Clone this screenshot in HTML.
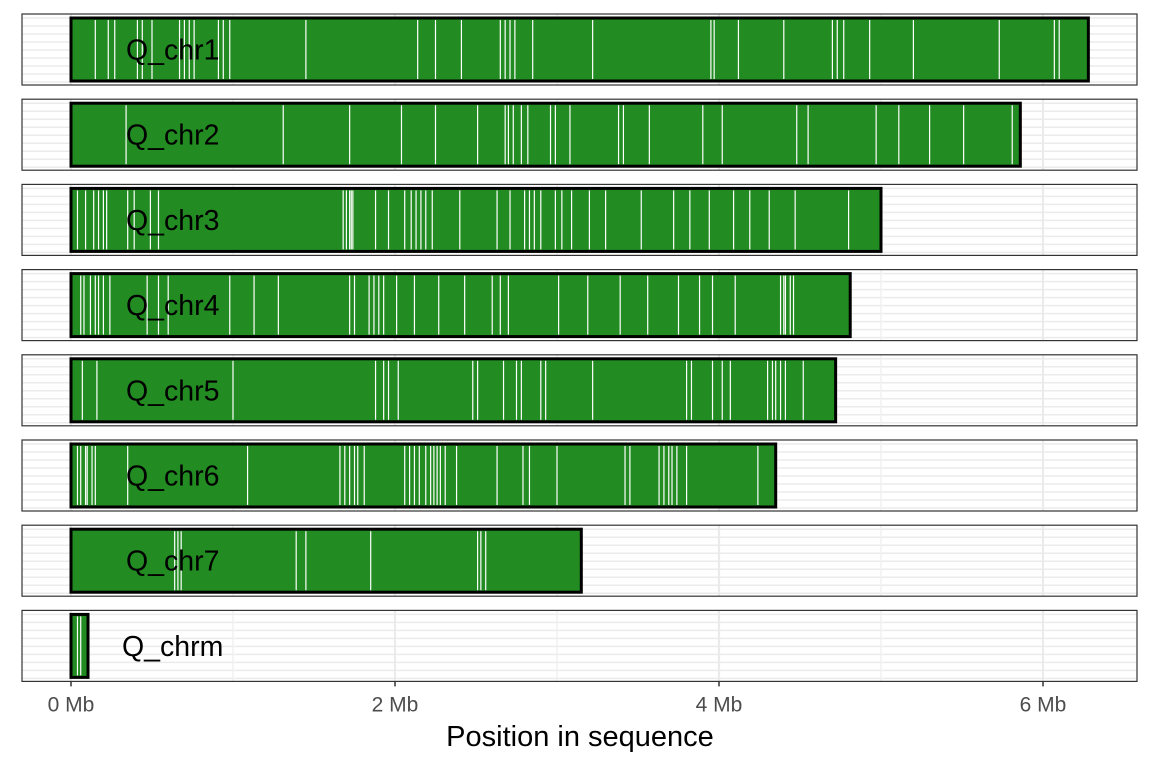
<!DOCTYPE html>
<html><head><meta charset="utf-8"><style>
html,body{margin:0;padding:0;background:#fff;}
svg{display:block;font-family:"Liberation Sans",sans-serif;}
</style></head><body>
<svg id="chart" width="1152" height="768"></svg>
<script>
const chromosomes=["Q_chr1","Q_chr2","Q_chr3","Q_chr4","Q_chr5","Q_chr6","Q_chr7","Q_chrm"];
const lengthsMb=[6.28,5.86,5.0,4.81,4.72,4.35,3.15,0.105];
const gaps1=[0.15,0.23,0.27,0.41,0.44,0.50,0.67,0.70,0.73,0.76,0.91,0.94,0.98,1.45,2.14,2.25,2.41,2.65,2.68,2.71,2.74,2.85,3.22,3.95,3.97,4.12,4.40,4.70,4.73,4.77,4.93,5.20,5.73,6.07,6.10];
const gaps2=[0.34,1.31,1.72,2.04,2.25,2.51,2.68,2.70,2.73,2.78,2.82,2.96,2.99,3.08,3.38,3.41,3.57,3.90,4.02,4.48,4.55,4.97,5.11,5.30,5.51,5.81];
const gaps3=[0.04,0.09,0.14,0.17,0.20,0.22,0.35,0.39,0.49,0.54,1.68,1.70,1.72,1.73,1.74,1.88,1.96,2.06,2.10,2.13,2.16,2.19,2.23,2.40,2.63,2.71,2.80,2.83,2.86,2.90,2.99,3.03,3.09,3.20,3.30,3.52,3.72,3.82,3.94,4.09,4.19,4.31,4.47,4.80];
const gaps4=[0.06,0.08,0.12,0.15,0.17,0.20,0.24,0.47,0.54,0.60,0.98,1.13,1.28,1.72,1.75,1.84,1.87,1.90,1.93,2.01,2.12,2.27,2.43,2.60,2.65,2.70,3.01,3.19,3.39,3.56,3.75,3.88,3.96,4.10,4.38,4.40,4.41,4.44,4.46];
const gaps5=[0.07,0.16,1.00,1.88,1.93,1.96,2.02,2.48,2.51,2.67,2.75,2.78,2.90,2.93,3.22,3.80,3.83,3.96,4.02,4.07,4.30,4.33,4.35,4.38,4.41,4.52];
const gaps6=[0.04,0.06,0.09,0.10,0.13,0.15,0.35,1.09,1.66,1.69,1.72,1.75,1.77,1.81,2.06,2.09,2.12,2.15,2.19,2.22,2.24,2.26,2.28,2.31,2.38,2.63,2.79,2.83,3.00,3.42,3.45,3.63,3.66,3.69,3.71,3.74,3.80,4.24];
const gaps7=[0.64,0.66,0.68,1.39,1.45,1.85,2.51,2.53,2.56];
const gapsM=[0.04,0.06];
const allGaps=[gaps1,gaps2,gaps3,gaps4,gaps5,gaps6,gaps7,gapsM];
const majorTicks=[0,2,4,6];
const tickLabels=["0 Mb","2 Mb","4 Mb","6 Mb"];
const minorTicks=[1,3,5];

const NS="http://www.w3.org/2000/svg";
const svg=document.getElementById('chart');
const X0=71,PX=162,PL=22,PR=1137,PT=14,PH=71,STEP=85.2;
const x=v=>X0+v*PX;
function mk(tag,attrs,parent){const e=document.createElementNS(NS,tag);for(const k in attrs)e.setAttribute(k,attrs[k]);(parent||svg).appendChild(e);return e;}

chromosomes.forEach((name,i)=>{
  const top=PT+i*STEP;
  const g=mk('g',{});
  
  
  mk('rect',{x:PL,y:top,width:PR-PL,height:PH,fill:'#fff'},g);
  for(let yy=top+4;yy<top+PH;yy+=8){mk('line',{x1:PL,x2:PR,y1:yy,y2:yy,stroke:'#ebebeb','stroke-width':1.5},g);}
  minorTicks.forEach(t=>mk('line',{x1:x(t),x2:x(t),y1:top,y2:top+PH,stroke:'#f0f0f0','stroke-width':1.5},g));
  majorTicks.forEach(t=>mk('line',{x1:x(t),x2:x(t),y1:top,y2:top+PH,stroke:'#ebebeb','stroke-width':2.2},g));
  const bar=mk('rect',{x:x(0),y:top+4,width:lengthsMb[i]*PX,height:PH-8,fill:'#228B22',stroke:'#000','stroke-width':3},g);
  
  
  allGaps[i].forEach(v=>{
    const l=mk('line',{x1:x(v),x2:x(v),y1:top+6,y2:top+PH-6,stroke:'#fff','stroke-width':1.2},g);
    
    
  });
  const t=mk('text',{x:i===7?122:126,y:top+PH/2+10,'font-size':28.5,fill:'#000'},g);
  t.textContent=name;
  
  
  mk('rect',{x:PL,y:top,width:PR-PL,height:PH,fill:'none',stroke:'#333','stroke-width':1.2},g);
});
const axisY=PT+7*STEP+PH;
majorTicks.forEach((t,k)=>{
  mk('line',{x1:x(t),x2:x(t),y1:axisY,y2:axisY+5,stroke:'#333','stroke-width':1.5});
  const tl=mk('text',{x:x(t),y:axisY+30,'font-size':21,fill:'#4d4d4d','text-anchor':'middle'});
  tl.textContent=tickLabels[k];
  
  
});
const title=mk('text',{x:580,y:746,'font-size':29,fill:'#000','text-anchor':'middle'});
title.textContent='Position in sequence';


</script>
</body></html>
